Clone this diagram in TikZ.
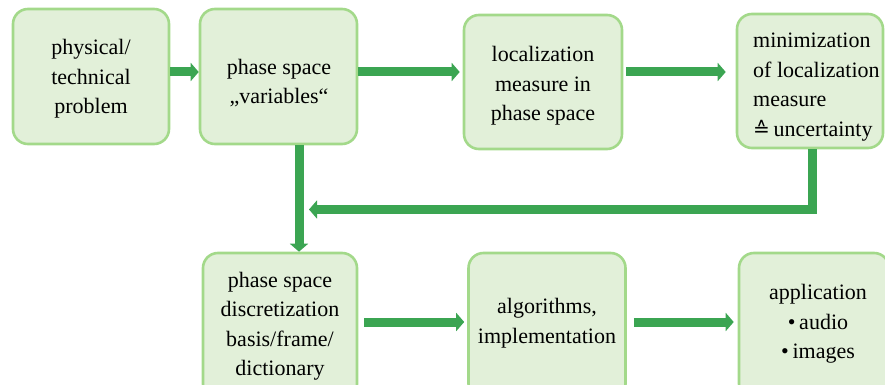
\documentclass[tikz,border=0pt]{standalone}
\usepackage{fontspec}
\setmainfont{Liberation Serif}
\newfontfamily\symfont{DejaVu Sans}
\usetikzlibrary{arrows.meta}
\definecolor{boxfill}{HTML}{E2F0D9}
\definecolor{boxline}{HTML}{A3D98A}
\definecolor{arrgreen}{HTML}{3BA552}
\begin{document}
\begin{tikzpicture}[x=1pt,y=-1pt,
  box/.style={draw=boxline, fill=boxfill, line width=2.6pt, rounded corners=15pt, inner sep=0pt},
  txt/.style={align=center, inner sep=0pt, font=\fontsize{22}{29.5}\selectfont},
  arr/.style={draw=arrgreen, line width=9pt, -{Triangle[length=8pt,width=18pt]}}]
\useasboundingbox (0,0) rectangle (885,385);
\clip (0,0) rectangle (885,385);
\node[box, minimum width=156pt, minimum height=135pt] (b1) at (91,76.5) {};
\node[box, minimum width=157pt, minimum height=135pt] (b2) at (278.5,76.5) {};
\node[box, minimum width=158pt, minimum height=134pt] (b3) at (543,82) {};
\node[box, minimum width=146pt, minimum height=134pt] (b4) at (810,81) {};
\node[box, minimum width=154pt, minimum height=146pt] (b5) at (280,326) {};
\node[box, minimum width=157pt, minimum height=146pt] (b6) at (547,326) {};
\node[box, minimum width=150pt, minimum height=146pt] (b7) at (814,326) {};
\node[txt] (t1) at (91,79) {physical/\\technical\\problem};
\node[txt] (t2) at (279,83) {phase space\\„variables“};
\node[txt] (t3) at (543,86) {localization\\measure in\\phase space};
\node[txt, align=left, anchor=west] (t4) at (753,87) {minimization\\of localization\\measure\\{\symfont\fontsize{20}{29.5}\selectfont ≙}\,uncertainty};
\node[txt] (t5) at (280,326) {phase space\\discretization\\basis/frame/\\dictionary};
\node[txt] (t6) at (547,323) {algorithms,\\implementation};
\node[txt] (t7) at (818,324) {application\\\textbullet\,audio\\\textbullet\,images};
\coordinate (r1) at (0,72);
\coordinate (r2) at (0,322);
\coordinate (vx) at (299,0);
\coordinate (fb) at (812,209.5);
\coordinate (fbend) at (309,209.5);
\draw[arr] (b1.east |- r1) -- (b2.west |- r1);
\draw[arr, shorten >=3pt] (b2.east |- r1) -- (b3.west |- r1);
\draw[arr, shorten <=3pt, shorten >=10pt] (b3.east |- r1) -- (b4.west |- r1);
\draw[arr] (b2.south -| vx) -- (b5.north -| vx);
\draw[arr] (b4.south -| fb) -- (fb) -- (fbend);
\draw[arr, shorten <=6pt, shorten >=3pt] (b5.east |- r2) -- (b6.west |- r2);
\draw[arr, shorten <=7pt, shorten >=4pt] (b6.east |- r2) -- (b7.west |- r2);
\end{tikzpicture}
\end{document}
